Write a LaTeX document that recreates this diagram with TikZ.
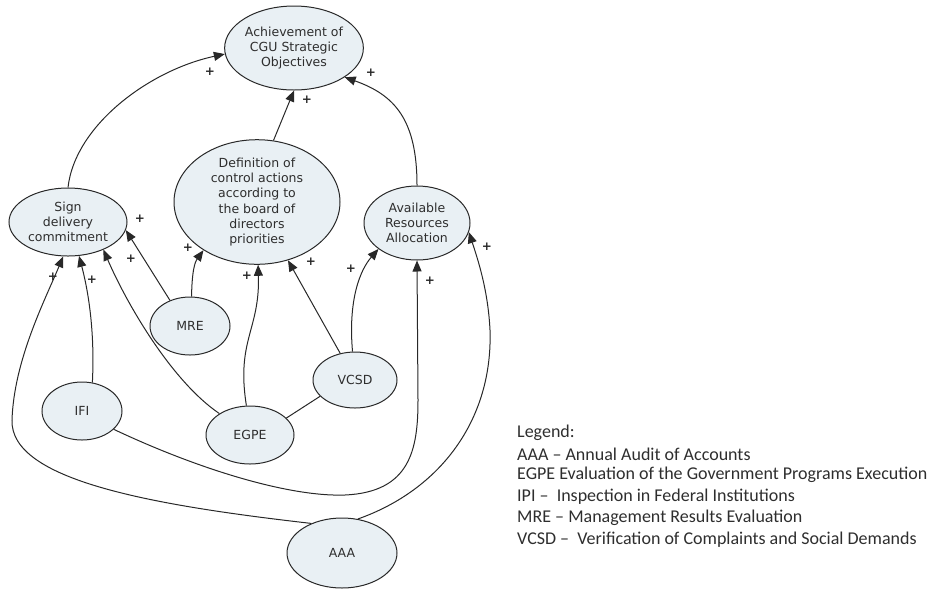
\documentclass[tikz,border=0pt]{standalone}
\usepackage{fontspec}
\setmainfont{DejaVu Sans}
\newfontfamily\legendfont{Carlito}
\usetikzlibrary{shapes.geometric,arrows.meta}
\definecolor{nodefill}{RGB}{233,240,244}
\definecolor{inkline}{RGB}{40,40,40}
\begin{document}
\begin{tikzpicture}[x=1pt,y=-1pt,
  bubble/.style={ellipse,draw=inkline,line width=1pt,fill=nodefill,inner sep=0pt,
    align=center,font=\fontsize{12.5}{15.2}\selectfont,text=black!82},
  link/.style={draw=inkline,line width=1pt,-{Triangle[length=11pt,width=9pt]}},
  plain/.style={draw=inkline,line width=1pt},
  plusmark/.style={font=\bfseries\fontsize{12}{12}\selectfont,inner sep=0pt,text=black!85},
  legendline/.style={anchor=west,inner sep=0pt,font=\legendfont\fontsize{18}{18}\selectfont,text=black!82}]
\useasboundingbox (0,0) rectangle (933,590);

% causal loop nodes
\node[bubble,minimum width=138pt,minimum height=84pt] (ach) at (294,48)
  {Achievement of\\CGU Strategic\\Objectives};
\node[bubble,minimum width=166pt,minimum height=124pt] (def) at (257,202)
  {Definition of\\control actions\\according to\\the board of\\directors\\priorities};
\node[bubble,minimum width=118pt,minimum height=68pt] (sign) at (68,222)
  {Sign\\delivery\\commitment};
\node[bubble,minimum width=106pt,minimum height=74pt] (avail) at (417,223)
  {Available\\Resources\\Allocation};
\node[bubble,minimum width=80pt,minimum height=58pt] (mre) at (190,326) {MRE};
\node[bubble,minimum width=84pt,minimum height=56pt] (vcsd) at (355,380) {VCSD};
\node[bubble,minimum width=80pt,minimum height=58pt] (ifi) at (82,411) {IFI};
\node[bubble,minimum width=88pt,minimum height=58pt] (egpe) at (250,435) {EGPE};
\node[bubble,minimum width=110pt,minimum height=70pt] (aaa) at (342,553) {AAA};

% links into the strategic objectives
\draw[link] (sign.north) .. controls (75,125) and (150,70) .. (ach.185);
\draw[link] (def.75) -- (ach.south);
\draw[link] (avail.north) .. controls (417,120) and (395,95) .. (ach.-30);

% links into sign delivery commitment
\draw[link] (mre.128) -- (sign.-8);
\draw[link] (egpe.145) .. controls (170,380) and (125,300) .. (sign.-38);
\draw[link] (ifi.70) .. controls (95,330) and (88,290) .. (sign.-72);
\draw[link] (aaa.136) .. controls (150,505) and (10,480) .. (12,420)
  .. controls (14,360) and (45,300) .. (sign.-98);

% links into the control actions definition
\draw[link] (mre.87) .. controls (192,270) and (195,262) .. (def.222);
\draw[link] (egpe.97) .. controls (236,340) and (260,330) .. (def.271);
\draw[link] (vcsd.119) -- (def.-62);

% links into resources allocation
\draw[link] (vcsd.95) .. controls (348,300) and (360,270) .. (avail.214);
\draw[link] (ifi.-30) .. controls (200,470) and (290,497) .. (345,495)
  .. controls (410,492) and (418,450) .. (418,400) -- (avail.south);
\draw[link] (aaa.65) .. controls (440,490) and (493,420) .. (490,330)
  .. controls (488,290) and (478,260) .. (avail.-10);

% undirected link
\draw[plain] (egpe.25) -- (vcsd.205);

% polarity marks
\foreach \px/\py in {210/72,307/100,371/73,140/219,131/259,188/248,247/276,311/262,
  351/269,430/281,487/247,53/277,92/280}
  \node[plusmark] at (\px,\py) {+};

% legend
\node[legendline] (lg0) at (517,433) {Legend:};
\node[legendline] (lg1) at (517,454) {AAA – Annual Audit of Accounts};
\node[legendline] (lg2) at (517,475) {EGPE Evaluation of the Government Programs Execution};
\node[legendline] (lg3) at (517,497) {IPI –\ \ Inspection in Federal Institutions};
\node[legendline] (lg4) at (517,518) {MRE – Management Results Evaluation};
\node[legendline] (lg5) at (517,540) {VCSD –\ \ Verification of Complaints and Social Demands};
\end{tikzpicture}
\end{document}
